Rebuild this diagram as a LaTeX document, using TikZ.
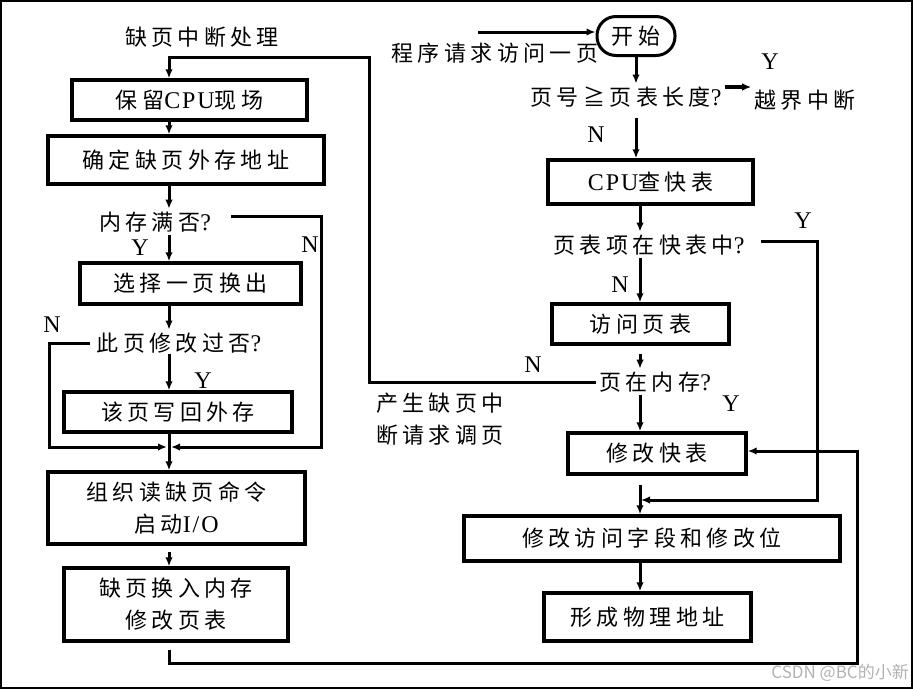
\documentclass[tikz,border=0pt]{standalone}
\usepackage{fontspec}
\setmainfont{Liberation Serif}[LetterSpace=8, Scale=1.09]
\newfontfamily\cjk{Noto Sans CJK SC}[LetterSpace=20]
\newfontfamily\wmfont{Noto Sans CJK SC}
\newcommand\zh[1]{{\cjk #1}}
\usetikzlibrary{arrows.meta,calc}
\begin{document}
\begin{tikzpicture}[x=1pt,y=-1pt,
  font=\fontsize{22pt}{32pt}\selectfont,
  box/.style={draw, line width=3.4pt, inner sep=0pt, align=center},
  lbl/.style={inner sep=3pt, align=center},
  arr/.style={-{Latex[length=9pt,width=7.5pt]}, line width=3pt},
  ln/.style={line width=3pt}]
\useasboundingbox (0,0) rectangle (913,689);
\draw[line width=1.8pt] (1,1) rectangle (912,688);

% columns
\coordinate (L) at (169,0);
\coordinate (R1) at (636,0);
\coordinate (R) at (640,0);

% ---------- left column ----------
\node[lbl] (title) at (202,37) {\zh{缺页中断处理}};
\node[box, minimum width=235pt, minimum height=40pt] (b1) at (189.5,100) {\zh{保留}CPU\zh{现场}};
\node[box, minimum width=276pt, minimum height=48pt] (b2) at (186,160) {\zh{确定缺页外存地址}};
\node[lbl] (q1) at (155,222) {\zh{内存满否}?};
\node[box, minimum width=221pt, minimum height=41pt] (b3) at (190.5,283.5) {\zh{选择一页换出}};
\node[lbl] (q2) at (179,343) {\zh{此页修改过否}?};
\node[box, minimum width=228pt, minimum height=40pt] (b4) at (178,412) {\zh{该页写回外存}};
\node[box, minimum width=257pt, minimum height=72pt] (b5) at (176.5,508) {\zh{组织读缺页命令}\\\zh{启动}I/O};
\node[box, minimum width=224pt, minimum height=73pt] (b6) at (176,604.5) {\zh{缺页换入内存}\\\zh{修改页表}};

\node[lbl] (yq1) at (140,248) {Y};
\node[lbl] (nq1) at (310,245) {N};
\node[lbl] (nq2) at (52,325) {N};
\node[lbl] (yq2) at (203,381) {Y};

% ---------- right column ----------
\node[lbl] (req) at (495,53) {\zh{程序请求访问一页}};
\node[draw, line width=3pt, rounded corners=19pt, minimum width=78pt, minimum height=39pt, inner sep=0pt] (start) at (636,36) {\zh{开始}};
\node[lbl] (q3) at (626,97) {\zh{页号≧页表长度}?};
\node[lbl] (yj) at (805,100) {\zh{越界中断}};
\node[lbl] (yq3) at (770,62) {Y};
\node[lbl] (nq3) at (596,135) {N};
\node[box, minimum width=205pt, minimum height=44pt] (b7) at (650.5,182) {CPU\zh{查快表}};
\node[lbl] (q4) at (649,245) {\zh{页表项在快表中}?};
\node[lbl] (yq4) at (803,221) {Y};
\node[lbl] (nq4) at (620,285) {N};
\node[box, minimum width=177pt, minimum height=40pt] (b8) at (640.5,324) {\zh{访问页表}};
\node[lbl] (q5) at (655,382) {\zh{页在内存}?};
\node[lbl] (nq5) at (533,365) {N};
\node[lbl] (yq5) at (731,404) {Y};
\node[lbl, align=left] (pf) at (440,419) {\zh{产生缺页中}\\\zh{断请求调页}};
\node[box, minimum width=178pt, minimum height=41pt] (b9) at (657,453.5) {\zh{修改快表}};
\node[box, minimum width=376pt, minimum height=45pt] (b10) at (652,538.5) {\zh{修改访问字段和修改位}};
\node[box, minimum width=207pt, minimum height=48pt] (b11) at (647.5,617) {\zh{形成物理地址}};

\node[anchor=east, inner sep=0pt, text=black!30, font=\wmfont\fontsize{17pt}{17pt}\selectfont] (wm) at (909,673) {CSDN @BC的小新};

% ---------- connectors ----------
\coordinate (tp) at (369,57);
\draw[arr] (q5.west) -| (tp) -| (b1.north -| L);
\draw[arr] (b1.south -| L) -- (b2.north -| L);
\draw[arr] (b2.south -| L) -- (q1.north -| L);
\coordinate (q1r) at (321,216);
\coordinate (j1) at (169,447);
\coordinate (lq) at (49,447);
\draw[arr] ([xshift=17pt,yshift=6pt]q1.east) -- (q1r) |- ([xshift=2pt]j1);
\draw[arr] (q1.south -| L) -- (b3.north -| L);
\draw[arr] (b3.south -| L) -- (q2.north -| L);
\draw[arr] ([xshift=-3pt]q2.west) -| (lq) -- ([xshift=-2pt]j1);
\draw[arr] ([yshift=2pt]q2.south -| L) -- (b4.north -| L);
\draw[arr] (b4.south -| L) -- (b5.north -| L);
\draw[arr, shorten <=6pt] (b5.south -| L) -- (b6.north -| L);
\coordinate (rb) at (857,663);
\draw[arr, shorten <=7pt] (b6.south -| L) |- (rb) |- ([yshift=2.5pt]b9.east);

\coordinate (pin) at (478,32);
\draw[arr] (pin) -- (pin -| start.west);
\draw[arr] (start.south -| R1) -- (q3.north -| R1);
\draw[arr, line width=3.6pt] ([yshift=10pt]q3.east) -- ([yshift=10pt]q3.east -| yj.west);
\draw[arr, shorten <=8pt] (q3.south -| R1) -- (b7.north -| R1);
\draw[arr] (b7.south -| R) -- (q4.north -| R);
\coordinate (q4c) at (817,500);
\coordinate (j2) at (640,500);
\draw[arr] ([xshift=13pt,yshift=4pt]q4.east) -| (q4c) -- ([xshift=1pt]j2);
\draw[arr] (q4.south -| R) -- (b8.north -| R);
\draw[arr, shorten <=8pt] (b8.south -| R) -- (q5.north -| R);
\draw[arr] (q5.south -| R) -- (b9.north -| R);
\draw[arr, shorten <=9pt] (b9.south -| R) -- (b10.north -| R);
\draw[arr] (b10.south -| R) -- (b11.north -| R);
\end{tikzpicture}
\end{document}
